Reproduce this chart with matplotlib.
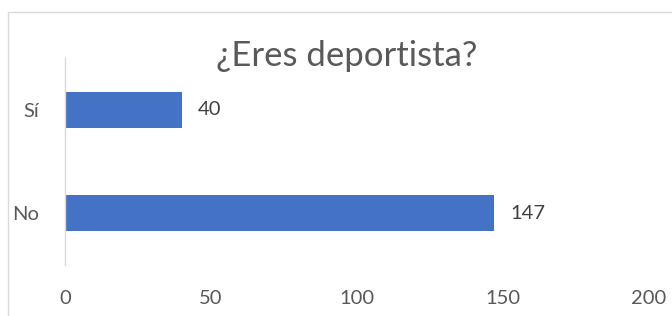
import matplotlib.pyplot as plt
from matplotlib.patches import Rectangle

categories = ["No", "Sí"]
values = [147, 40]
xticks = [0, 50, 100, 150, 200]

plt.rcParams['font.family'] = ['Lato', 'DejaVu Sans']

fig = plt.figure(figsize=(6.72, 3.16), dpi=100)

# chart area border (cropped on the right and bottom)
fig.patches.append(Rectangle((8 / 672, -0.1), 1.2, (316 - 12) / 316 + 0.1,
                             transform=fig.transFigure, fill=False,
                             edgecolor='#d9d9d9', linewidth=1.0))

ax = fig.add_axes([65 / 672, 1 - 265 / 316, (649 - 65) / 672, (265 - 58) / 316])

bars = ax.barh(range(len(categories)), values, height=0.35, color='#4472c4')

ax.set_xlim(0, 200)
ax.set_ylim(-0.5, 1.5)
ax.set_xticks(xticks)
ax.set_yticks(range(len(categories)))
ax.set_yticklabels(categories)

for s in ['top', 'right', 'bottom']:
    ax.spines[s].set_visible(False)
ax.spines['left'].set_color('#d9d9d9')
ax.spines['left'].set_linewidth(1.0)

ax.tick_params(axis='both', length=0, labelsize=14.5, colors='#595959')
ax.tick_params(axis='x', pad=18)
ax.tick_params(axis='y', pad=19)

for b, v in zip(bars, values):
    ax.text(v + 5.5, b.get_y() + b.get_height() / 2, str(v),
            va='center', ha='left', fontsize=14.5, color='#404040')

fig.text(347 / 672, 1 - 56 / 316, "¿Eres deportista?", ha='center', va='center',
         fontsize=25, color='#595959')

fig.savefig("out.png", dpi=100)
